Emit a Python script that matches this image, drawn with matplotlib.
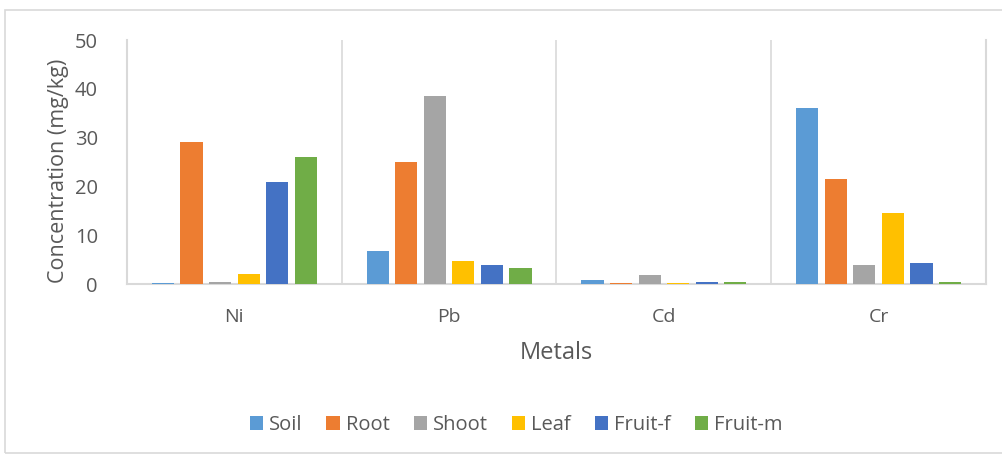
import matplotlib
matplotlib.use("Agg")
import matplotlib.pyplot as plt
import numpy as np
from matplotlib.patches import Rectangle

metals = ["Ni", "Pb", "Cd", "Cr"]
series = ["Soil", "Root", "Shoot", "Leaf", "Fruit-f", "Fruit-m"]
soil = [0.2, 6.7, 0.9, 36.1]
root = [29.2, 24.9, 0.3, 21.5]
shoot = [0.4, 38.5, 1.9, 3.9]
leaf = [2.0, 4.8, 0.3, 14.6]
fruit_f = [21.0, 3.9, 0.4, 4.3]
fruit_m = [26.1, 3.2, 0.5, 0.4]
values = [soil, root, shoot, leaf, fruit_f, fruit_m]
colors = ["#5B9BD5", "#ED7D31", "#A5A5A5", "#FFC000", "#4472C4", "#70AD47"]

plt.rcParams['font.family'] = ['Open Sans', 'DejaVu Sans']
txt = "#595959"
grid = "#D9D9D9"

fig = plt.figure(figsize=(10.03, 4.55), dpi=100)
fig.patches.append(Rectangle((5/1003, 2/455), 1.2, (445-2)/455, transform=fig.transFigure,
                             fill=False, edgecolor=grid, linewidth=1.2))
ax = fig.add_axes([127/1003, (455-284)/455, (986-127)/1003, (284-40)/455])

x = np.arange(len(metals))
step = 0.133
w = 0.103
for i, (name, vals, c) in enumerate(zip(series, values, colors)):
    ax.bar(x + (i - 2.5) * step, vals, width=w, color=c, label=name, zorder=3)

ax.set_xlim(-0.5, len(metals) - 0.5)
ax.set_ylim(0, 50)
ax.set_yticks([0, 10, 20, 30, 40, 50])
for b in np.arange(0.5, len(metals) - 0.5, 1):
    ax.axvline(b, color=grid, linewidth=1.2, zorder=1)
for s in ["left", "bottom", "right"]:
    ax.spines[s].set_color(grid)
    ax.spines[s].set_linewidth(1.5)
ax.spines["top"].set_visible(False)
ax.set_xticks(x)
ax.set_xticklabels(metals)
ax.tick_params(axis='x', length=0, pad=17, labelsize=14, labelcolor=txt)
ax.tick_params(axis='y', length=0, pad=21, labelsize=14.5, labelcolor=txt)
ax.set_xlabel("Metals", fontsize=17, color=txt, labelpad=11)
ax.set_ylabel("Concentration (mg/kg)", fontsize=15.5, color=txt, labelpad=6)
ax.yaxis.set_label_coords(-0.068, 0.465)

leg = fig.legend(loc="center", bbox_to_anchor=(516/1003, (455-425)/455), ncol=6, frameon=False,
                 fontsize=14.5, handlelength=0.65, handleheight=0.65, handletextpad=0.3,
                 columnspacing=1.2, labelcolor=txt)

fig.savefig("out.png", dpi=100)
